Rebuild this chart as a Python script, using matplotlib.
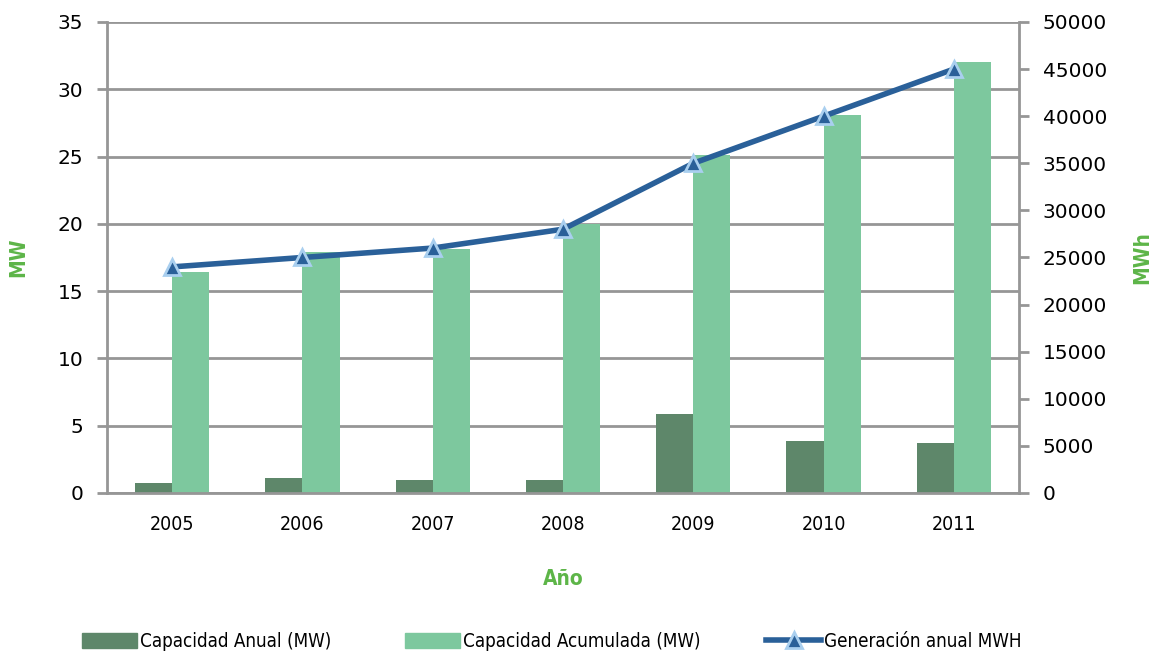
import numpy as np
import matplotlib
matplotlib.use("Agg")
import matplotlib.pyplot as plt
from matplotlib import font_manager
from matplotlib.lines import Line2D
from matplotlib.patches import Patch

# data
years = ["2005", "2006", "2007", "2008", "2009", "2010", "2011"]
cap_anual = [0.75, 1.15, 1.0, 1.0, 5.9, 3.9, 3.7]
cap_acumulada = [16.4, 17.9, 18.1, 20.0, 25.1, 28.1, 32.0]
generacion_mwh = [24000, 25000, 26000, 28000, 35000, 40000, 45000]

left_ticks = [0, 5, 10, 15, 20, 25, 30, 35]
right_ticks = [0, 5000, 10000, 15000, 20000, 25000, 30000, 35000, 40000, 45000, 50000]

# look for a condensed face for the category/legend text
cond = [f.fname for f in font_manager.fontManager.ttflist
        if "condensed" in f.fname.lower() and "bold" not in f.fname.lower()
        and "oblique" not in f.fname.lower() and "italic" not in f.fname.lower()]
cond_bold = [f.fname for f in font_manager.fontManager.ttflist
             if "condensed" in f.fname.lower() and "bold" in f.fname.lower()
             and "oblique" not in f.fname.lower() and "italic" not in f.fname.lower()]


def fp(size, bold=False):
    if bold and cond_bold:
        return font_manager.FontProperties(fname=sorted(cond_bold)[0], size=size)
    if cond and not bold:
        return font_manager.FontProperties(fname=sorted(cond)[0], size=size)
    return font_manager.FontProperties(family="DejaVu Sans", size=size,
                                       weight="bold" if bold else "normal")


c_anual = "#5E876A"
c_acum = "#7DC89E"
c_line = "#2A6099"
c_green = "#5DB548"
c_grid = "#969696"

fig = plt.figure(figsize=(11.53, 6.56), dpi=100)
ax = fig.add_axes([0.0928, 0.2485, 0.7910, 0.718])

x = np.arange(len(years))
w = 0.285
ax.bar(x - w / 2, cap_anual, w, color=c_anual, zorder=2)
ax.bar(x + w / 2, cap_acumulada, w, color=c_acum, zorder=2)

ax.set_xlim(-0.5, len(years) - 0.5)
ax.set_ylim(0, 35)
ax.set_yticks(left_ticks)
ax.set_xticks(x)
ax.set_xticklabels(years, fontproperties=fp(14))
ax.tick_params(axis="x", length=0, pad=16)
ax.tick_params(axis="y", labelsize=14.5, length=7, width=2, color=c_grid, pad=10)
ax.yaxis.grid(True, color=c_grid, linewidth=2, zorder=0)
ax.set_axisbelow(True)

for side in ["top", "right"]:
    ax.spines[side].set_visible(False)
for side in ["left", "bottom"]:
    ax.spines[side].set_color(c_grid)
    ax.spines[side].set_linewidth(2)

ax.set_xlabel("Año", color=c_green, fontproperties=fp(15, bold=True), labelpad=25)
ax.set_ylabel("MW", color=c_green, fontproperties=fp(15, bold=True), labelpad=21)

ax2 = ax.twinx()
ax2.plot(x, generacion_mwh, color=c_line, linewidth=4, marker="^", markersize=12,
         markerfacecolor=c_line, markeredgecolor="#A9CFEF", markeredgewidth=2, zorder=3)
ax2.set_ylim(0, 50000)
ax2.set_yticks(right_ticks)
ax2.tick_params(axis="y", labelsize=14.5, length=7, width=2, color=c_grid, pad=10)
for side in ["top", "left", "bottom"]:
    ax2.spines[side].set_visible(False)
ax2.spines["right"].set_color(c_grid)
ax2.spines["right"].set_linewidth(2)
ax2.set_ylabel("MWh", color=c_green, fontproperties=fp(15, bold=True), labelpad=18)

# legend entries placed one by one to match the reference spacing
entries = [
    (Patch(color=c_anual), "Capacidad Anual (MW)", 0.0633),
    (Patch(color=c_acum), "Capacidad Acumulada (MW)", 0.3435),
    (Line2D([], [], color=c_line, linewidth=4, marker="^", markersize=11,
            markerfacecolor=c_line, markeredgecolor="#A9CFEF", markeredgewidth=2),
     "Generación anual MWH", 0.6565),
]
for handle, text, xpos in entries:
    leg = fig.legend([handle], [text], loc="center left", bbox_to_anchor=(xpos, 0.022),
                     frameon=False, handlelength=2.9, handleheight=0.8, handletextpad=0.15,
                     borderpad=0, prop=fp(13.5))

fig.savefig("out.png", dpi=100)
